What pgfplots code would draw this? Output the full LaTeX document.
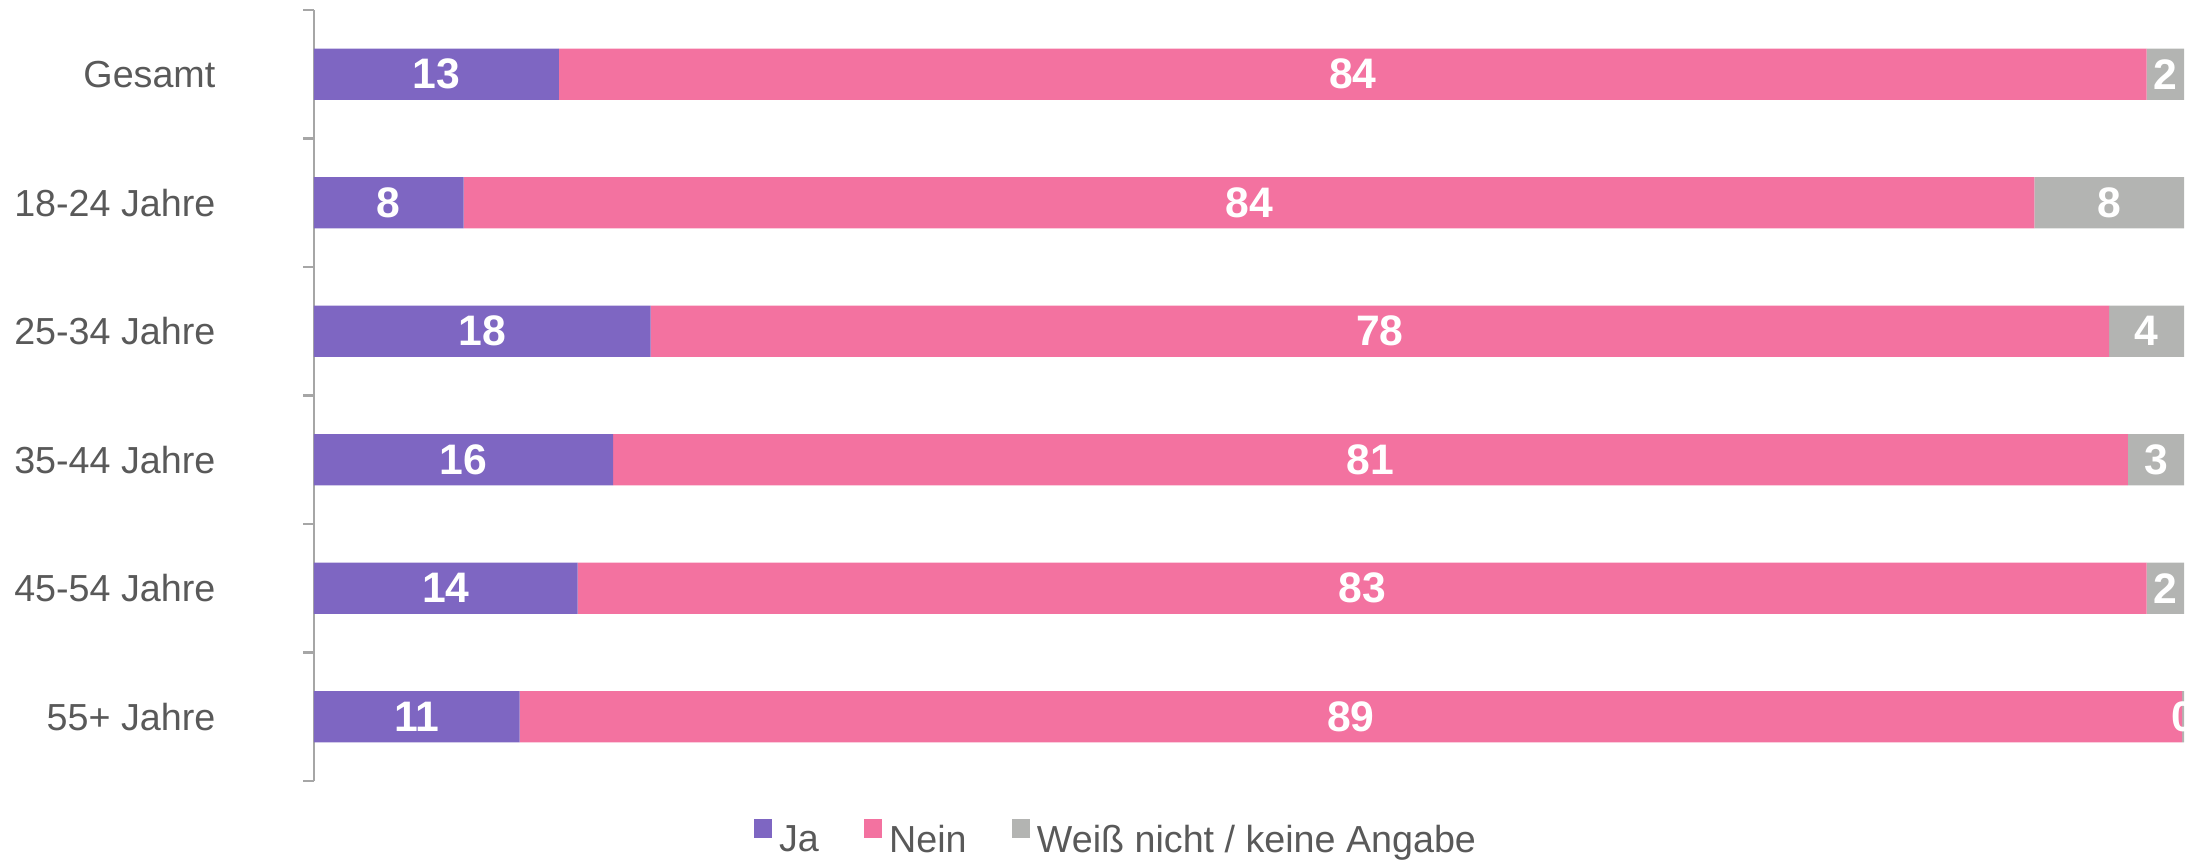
\documentclass[border=0pt]{standalone}
\usepackage{pgfplots}
\pgfplotsset{compat=1.18}
\usepackage{pgfplotstable}
\usepackage{fontspec}
\setmainfont{Liberation Sans}
\definecolor{cJa}{RGB}{126,102,194}
\definecolor{cNein}{RGB}{243,114,160}
\definecolor{cWn}{RGB}{179,180,178}
\definecolor{txt}{RGB}{89,89,89}
\definecolor{axc}{RGB}{166,166,166}

\pgfplotstableread{
y val lbl
0 13.1 13
1 8.0 8
2 18.0 18
3 16.0 16
4 14.1 14
5 11.0 11
}\ja
\pgfplotstableread{
y val lbl
0 84.9 84
1 84.0 84
2 78.0 78
3 81.0 81
4 83.9 83
5 88.9 89
}\nein
\pgfplotstableread{
y val lbl
0 2.0 2
1 8.0 8
2 4.0 4
3 3.0 3
4 2.0 2
5 0.1 0
}\wn

\begin{document}
\begin{tikzpicture}
\useasboundingbox (0,0) rectangle (656.1pt,257.7pt);
\begin{axis}[
  at={(94.2pt,23.4pt)}, anchor=south west,
  scale only axis, width=561pt, height=231.3pt,
  clip=false,
  xbar stacked, bar width=15.4pt,
  xmin=0, xmax=100, ymin=-0.5, ymax=5.5, y dir=reverse,
  axis x line=none, axis y line*=left,
  y axis line style={draw=axc, line width=0.7pt},
  ytick={0,...,5},
  yticklabels={Gesamt,18-24 Jahre,25-34 Jahre,35-44 Jahre,45-54 Jahre,55+ Jahre},
  major tick length=0pt,
  minor ytick={-0.5,0.5,...,5.5},
  minor tick length=3.3pt,
  tick align=outside,
  minor tick style={draw=axc, line width=0.7pt},
  yticklabel style={font=\fontsize{11.3}{13}\selectfont, text=txt, inner sep=0pt, anchor=east, xshift=-29.4pt},
  point meta=explicit symbolic,
  nodes near coords,
  every node near coord/.append style={font=\bfseries\fontsize{12.8}{15}\selectfont, text=white, anchor=center, overlay},
  legend style={at={(0.2348,-0.0765)}, anchor=west, draw=none, fill=none, inner sep=0pt,
    legend columns=-1, font=\fontsize{11.3}{13}\selectfont, text=txt,
    nodes={inner xsep=0pt, inner ysep=1pt},
    /tikz/every odd column/.append style={column sep=2.1pt},
    /tikz/every even column/.append style={column sep=13.5pt}},
  legend image code/.code={\fill[#1] (0pt,0.9pt) rectangle (5.5pt,6.5pt);},
]
\addplot[fill=cJa, draw=none] table[x=val, y=y, meta=lbl] {\ja};
\addplot[fill=cNein, draw=none] table[x=val, y=y, meta=lbl] {\nein};
\addplot[fill=cWn, draw=none] table[x=val, y=y, meta=lbl] {\wn};
\legend{Ja, Nein, Weiß nicht / keine Angabe}
\end{axis}
\end{tikzpicture}
\end{document}
